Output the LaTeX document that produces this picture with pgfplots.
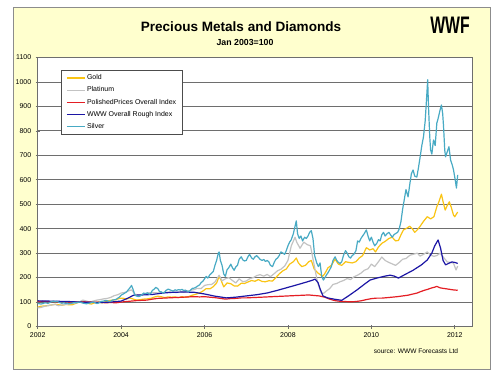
\documentclass[border=0pt]{standalone}
\usepackage{fontspec}
\setmainfont{Liberation Sans}
\usepackage{pgfplots}
\pgfplotsset{compat=1.18}
\definecolor{goldc}{RGB}{250,196,20}
\definecolor{platc}{RGB}{195,195,195}
\definecolor{redc}{RGB}{228,30,36}
\definecolor{bluec}{RGB}{28,22,165}
\definecolor{silvc}{RGB}{72,170,196}
\definecolor{framebg}{RGB}{255,255,206}
\definecolor{gridc}{RGB}{110,110,110}
\begin{document}
\begin{tikzpicture}[x=1bp,y=1bp]
\fill[white] (0,0) rectangle (498,382);
\filldraw[fill=framebg,draw=black!45,line width=0.8bp] (13,13) rectangle (490,375);
\node[font=\bfseries\fontsize{13.6}{15}\selectfont] at (241,355) {Precious Metals and Diamonds};
\node[font=\bfseries\fontsize{8.8}{10}\selectfont] at (245,340) {Jan 2003=100};
\node[font=\bfseries\fontsize{24}{24}\selectfont,xscale=0.66] at (450,357) {WWF};
\node[font=\fontsize{6.6}{7.5}\selectfont] at (416,31) {source: WWW Forecasts Ltd};
\begin{axis}[
  at={(37.7bp,55.5bp)}, anchor=south west,
  scale only axis, width=435bp, height=269bp,
  xmin=2002, xmax=2012.43, ymin=0, ymax=1100,
  xtick={2002,2004,...,2012},
  ytick={0,100,...,1100},
  /pgf/number format/1000 sep={},
  /pgf/number format/assume math mode=true,
  tick label style={font=\fontsize{7}{8}\selectfont},
  tick pos=left, tick align=center, major tick length=4bp,
  tick style={draw=gridc, line width=0.6bp},
  ymajorgrids, major grid style={draw=gridc, line width=0.8bp},
  axis line style={draw=gridc, line width=0.8bp},
  axis background/.style={fill=white},
  xticklabel style={yshift=-1bp},
  yticklabel style={xshift=-1bp},
  every axis plot/.append style={line width=1.2bp, line join=round},
  legend cell align=left,
  legend image code/.code={\draw[#1, line width=1.2bp] (0bp,0bp) -- (18bp,0bp);},
  legend style={at={(0.0536,0.9535)}, anchor=north west,
    draw=black!70, fill=white, line width=0.6bp,
    font=\fontsize{7}{8}\selectfont,
    row sep=1.6bp, inner xsep=5bp, inner ysep=2.5bp,
    nodes={inner xsep=1.5bp}},
]
% Gold
\addplot[draw=goldc] coordinates {
(2002.00,79)(2002.08,83)(2002.17,84)(2002.25,86)(2002.33,88)(2002.42,91)(2002.50,89)(2002.58,87)(2002.67,90)(2002.75,89)(2002.83,89)(2002.92,95)
(2003.00,100)(2003.04,102)(2003.08,104)(2003.13,99)(2003.21,94)(2003.29,92)(2003.38,98)(2003.46,100)(2003.54,97)(2003.63,101)(2003.71,106)(2003.79,108)(2003.88,110)(2003.96,115)
(2004.04,116)(2004.13,112)(2004.21,117)(2004.29,112)(2004.38,108)(2004.46,110)(2004.54,112)(2004.63,113)(2004.71,115)(2004.79,120)(2004.88,124)(2004.96,122)
(2005.04,118)(2005.13,121)(2005.21,120)(2005.29,121)(2005.38,118)(2005.46,122)(2005.54,119)(2005.63,123)(2005.71,128)(2005.79,132)(2005.88,137)(2005.96,145)
(2006.04,155)(2006.13,154)(2006.21,163)(2006.29,178)(2006.35,205)(2006.40,188)(2006.46,162)(2006.54,178)(2006.63,175)(2006.71,166)(2006.79,165)(2006.88,177)(2006.96,176)
(2007.04,182)(2007.13,188)(2007.21,185)(2007.29,192)(2007.38,184)(2007.46,183)(2007.54,187)(2007.63,186)(2007.71,200)(2007.79,215)(2007.88,228)(2007.96,235)
(2008.04,255)(2008.13,265)(2008.20,280)(2008.25,260)(2008.33,245)(2008.42,250)(2008.50,265)(2008.56,270)(2008.63,235)(2008.71,220)(2008.79,210)(2008.83,205)(2008.88,215)(2008.96,240)
(2009.04,250)(2009.13,275)(2009.21,255)(2009.29,250)(2009.38,265)(2009.46,262)(2009.54,260)(2009.63,265)(2009.71,280)(2009.79,290)(2009.88,322)(2009.92,318)(2009.96,313)
(2010.04,318)(2010.10,305)(2010.17,325)(2010.25,340)(2010.33,348)(2010.42,360)(2010.50,365)(2010.58,350)(2010.65,352)(2010.71,375)(2010.77,395)(2010.83,400)(2010.92,410)(2010.98,400)
(2011.04,385)(2011.10,395)(2011.17,410)(2011.25,430)(2011.34,449)(2011.42,440)(2011.50,449)(2011.57,490)(2011.62,510)(2011.68,541)(2011.72,510)(2011.77,476)(2011.82,495)(2011.87,510)(2011.92,485)(2011.97,455)(2012.00,449)(2012.04,460)(2012.07,468)
};
\addlegendentry{Gold}
% Platinum
\addplot[draw=platc] coordinates {
(2002.00,76)(2002.08,78)(2002.17,83)(2002.25,85)(2002.33,88)(2002.42,90)(2002.50,85)(2002.58,88)(2002.67,90)(2002.75,92)(2002.83,94)(2002.92,96)
(2003.00,100)(2003.08,108)(2003.17,104)(2003.25,100)(2003.33,104)(2003.42,108)(2003.50,110)(2003.58,113)(2003.67,115)(2003.75,119)(2003.83,126)(2003.92,130)
(2004.00,137)(2004.08,139)(2004.17,145)(2004.25,150)(2004.33,132)(2004.42,129)(2004.50,131)(2004.58,134)(2004.67,138)(2004.75,139)(2004.83,138)(2004.92,137)
(2005.00,139)(2005.08,140)(2005.17,141)(2005.25,140)(2005.33,139)(2005.42,142)(2005.50,140)(2005.58,144)(2005.67,148)(2005.75,151)(2005.83,156)(2005.92,155)
(2006.00,168)(2006.08,171)(2006.17,172)(2006.25,182)(2006.35,210)(2006.42,187)(2006.50,195)(2006.58,200)(2006.67,188)(2006.75,178)(2006.83,195)(2006.92,183)
(2007.00,186)(2007.08,195)(2007.17,200)(2007.25,208)(2007.33,212)(2007.42,206)(2007.50,213)(2007.58,204)(2007.67,216)(2007.75,228)(2007.83,234)(2007.92,247)
(2008.00,270)(2008.08,330)(2008.17,365)(2008.21,345)(2008.29,320)(2008.38,345)(2008.46,335)(2008.54,330)(2008.63,250)(2008.71,180)(2008.79,140)(2008.85,135)(2008.92,145)
(2009.00,155)(2009.08,172)(2009.17,176)(2009.25,183)(2009.33,188)(2009.42,196)(2009.50,192)(2009.58,203)(2009.67,210)(2009.75,218)(2009.83,230)(2009.92,236)
(2010.00,255)(2010.08,245)(2010.17,265)(2010.25,284)(2010.33,270)(2010.42,262)(2010.50,256)(2010.58,250)(2010.67,262)(2010.75,275)(2010.83,278)(2010.93,292)
(2011.00,295)(2011.10,300)(2011.17,288)(2011.25,295)(2011.34,305)(2011.42,292)(2011.50,287)(2011.57,290)(2011.65,300)(2011.72,285)(2011.82,264)(2011.90,262)(2011.97,259)(2012.03,231)(2012.07,247)
};
\addlegendentry{Platinum}
% Polished prices
\addplot[draw=redc] coordinates {
(2002.00,102)(2002.12,103)(2002.25,101)(2002.38,102)(2002.50,100)(2002.62,101)(2002.75,99)(2002.88,100)
(2003.00,100)(2003.12,101)(2003.25,100)(2003.38,99)(2003.50,99)(2003.62,97)(2003.75,98)(2003.88,97)
(2004.00,100)(2004.12,102)(2004.25,104)(2004.38,106)(2004.50,107)(2004.62,108)(2004.75,112)(2004.88,115)
(2005.00,116)(2005.12,117)(2005.25,118)(2005.38,119)(2005.50,120)(2005.62,121)(2005.75,122)(2005.88,121)
(2006.00,122)(2006.12,120)(2006.25,118)(2006.38,115)(2006.50,112)(2006.62,114)(2006.75,115)(2006.88,117)
(2007.00,117)(2007.12,118)(2007.25,119)(2007.38,120)(2007.50,121)(2007.62,122)(2007.75,123)(2007.88,124)
(2008.00,125)(2008.12,126)(2008.25,127)(2008.38,128)(2008.50,129)(2008.62,127)(2008.75,125)(2008.88,120)
(2009.00,112)(2009.12,106)(2009.25,103)(2009.38,102)(2009.50,101)(2009.62,102)(2009.75,105)(2009.88,110)
(2010.00,114)(2010.12,116)(2010.25,116)(2010.38,118)(2010.50,120)(2010.62,122)(2010.75,125)(2010.88,128)
(2011.00,133)(2011.10,137)(2011.17,142)(2011.27,148)(2011.35,152)(2011.45,158)(2011.52,161)(2011.57,164)(2011.65,158)(2011.72,156)(2011.80,154)(2011.88,152)(2011.95,150)(2012.07,148)
};
\addlegendentry{PolishedPrices Overall Index}
% Rough index
\addplot[draw=bluec] coordinates {
(2002.00,105)(2002.25,104)(2002.50,103)(2002.75,102)(2003.00,100)(2003.25,99)(2003.50,98)(2003.75,100)
(2004.00,104)(2004.15,115)(2004.30,128)(2004.50,129)(2004.75,131)(2005.00,137)(2005.25,140)(2005.50,141)(2005.75,140)
(2006.00,133)(2006.25,124)(2006.53,117)(2006.75,120)(2007.00,125)(2007.25,130)(2007.50,137)(2007.75,148)
(2008.00,160)(2008.25,172)(2008.45,182)(2008.60,190)(2008.65,194)(2008.72,180)(2008.78,150)(2008.84,125)(2008.95,117)
(2009.10,112)(2009.29,107)(2009.45,125)(2009.65,149)(2009.85,175)(2009.97,190)(2010.13,198)(2010.30,205)(2010.45,210)(2010.55,206)(2010.65,198)(2010.80,212)
(2011.00,230)(2011.20,252)(2011.34,272)(2011.45,300)(2011.52,330)(2011.60,354)(2011.66,320)(2011.72,270)(2011.78,252)(2011.85,258)(2011.93,264)(2012.00,262)(2012.07,258)
};
\addlegendentry{WWW Overall Rough Index}
% Silver
\addplot[draw=silvc] coordinates {
(2002.00,95)(2002.04,93)(2002.08,92)(2002.13,94)(2002.17,97)(2002.21,96)(2002.25,95)(2002.29,98)(2002.33,102)(2002.38,104)(2002.42,101)(2002.46,103)
(2002.50,100)(2002.54,97)(2002.58,95)(2002.63,97)(2002.67,94)(2002.71,96)(2002.75,93)(2002.79,95)(2002.83,96)(2002.88,98)(2002.92,97)(2002.96,99)
(2003.00,100)(2003.04,98)(2003.08,96)(2003.13,94)(2003.17,93)(2003.21,95)(2003.25,96)(2003.29,98)(2003.33,100)(2003.38,97)(2003.42,94)(2003.46,96)
(2003.50,101)(2003.54,103)(2003.58,104)(2003.63,107)(2003.67,105)(2003.71,102)(2003.75,103)(2003.79,108)(2003.83,109)(2003.88,111)(2003.92,116)(2003.96,120)
(2004.00,128)(2004.04,132)(2004.08,136)(2004.13,141)(2004.17,150)(2004.21,158)(2004.25,168)(2004.29,150)(2004.33,128)(2004.38,124)(2004.42,122)(2004.46,125)
(2004.50,130)(2004.54,137)(2004.58,134)(2004.63,138)(2004.67,132)(2004.71,135)(2004.75,148)(2004.79,152)(2004.83,160)(2004.88,155)(2004.92,143)(2004.96,142)
(2005.00,137)(2005.04,140)(2005.08,148)(2005.13,153)(2005.17,150)(2005.21,147)(2005.25,145)(2005.29,150)(2005.33,148)(2005.38,151)(2005.42,149)(2005.46,152)
(2005.50,147)(2005.54,149)(2005.58,145)(2005.63,143)(2005.67,150)(2005.71,156)(2005.75,157)(2005.79,160)(2005.83,165)(2005.88,170)(2005.92,180)(2005.96,185)
(2006.00,195)(2006.04,205)(2006.08,198)(2006.13,212)(2006.17,218)(2006.21,225)(2006.25,250)(2006.29,270)(2006.33,300)(2006.35,305)(2006.38,270)(2006.42,250)
(2006.46,215)(2006.50,205)(2006.54,232)(2006.58,240)(2006.63,255)(2006.67,240)(2006.71,230)(2006.75,244)(2006.79,250)(2006.83,275)(2006.88,285)(2006.92,272)(2006.96,268)
(2007.00,270)(2007.04,285)(2007.08,295)(2007.13,280)(2007.17,275)(2007.21,285)(2007.25,290)(2007.29,283)(2007.33,275)(2007.38,270)(2007.42,274)(2007.46,266)
(2007.50,270)(2007.54,265)(2007.58,250)(2007.63,245)(2007.67,262)(2007.71,275)(2007.75,280)(2007.79,290)(2007.83,305)(2007.88,300)(2007.92,295)(2007.96,310)
(2008.00,330)(2008.04,345)(2008.08,355)(2008.13,380)(2008.17,410)(2008.20,432)(2008.23,380)(2008.27,360)(2008.31,370)(2008.35,350)(2008.40,365)(2008.44,360)
(2008.48,370)(2008.52,385)(2008.56,392)(2008.60,360)(2008.64,290)(2008.69,260)(2008.73,245)(2008.77,260)(2008.81,205)(2008.85,190)(2008.88,198)(2008.92,210)(2008.96,220)
(2009.00,232)(2009.04,245)(2009.08,270)(2009.13,285)(2009.17,270)(2009.21,262)(2009.25,258)(2009.29,265)(2009.33,290)(2009.38,310)(2009.42,300)(2009.46,285)
(2009.50,280)(2009.54,290)(2009.58,295)(2009.63,310)(2009.67,350)(2009.71,345)(2009.75,360)(2009.79,370)(2009.83,380)(2009.88,395)(2009.92,370)(2009.96,350)
(2010.00,365)(2010.04,345)(2010.08,330)(2010.13,340)(2010.17,355)(2010.21,350)(2010.25,375)(2010.29,385)(2010.33,370)(2010.38,380)(2010.42,385)(2010.46,375)
(2010.50,365)(2010.54,375)(2010.58,380)(2010.63,385)(2010.67,400)(2010.71,430)(2010.75,480)(2010.79,520)(2010.83,560)(2010.88,530)(2010.92,580)(2010.96,625)
(2011.00,640)(2011.04,615)(2011.09,611)(2011.13,650)(2011.17,694)(2011.21,740)(2011.25,776)(2011.29,840)(2011.33,950)(2011.35,1009)(2011.37,900)(2011.40,776)
(2011.42,722)(2011.45,705)(2011.49,763)(2011.53,740)(2011.57,832)(2011.60,850)(2011.64,880)(2011.68,906)(2011.71,870)(2011.73,820)(2011.76,720)(2011.78,694)
(2011.82,715)(2011.86,735)(2011.90,680)(2011.94,660)(2011.97,640)(2012.01,600)(2012.04,566)(2012.07,620)
};
\addlegendentry{Silver}
\end{axis}
\end{tikzpicture}
\end{document}
